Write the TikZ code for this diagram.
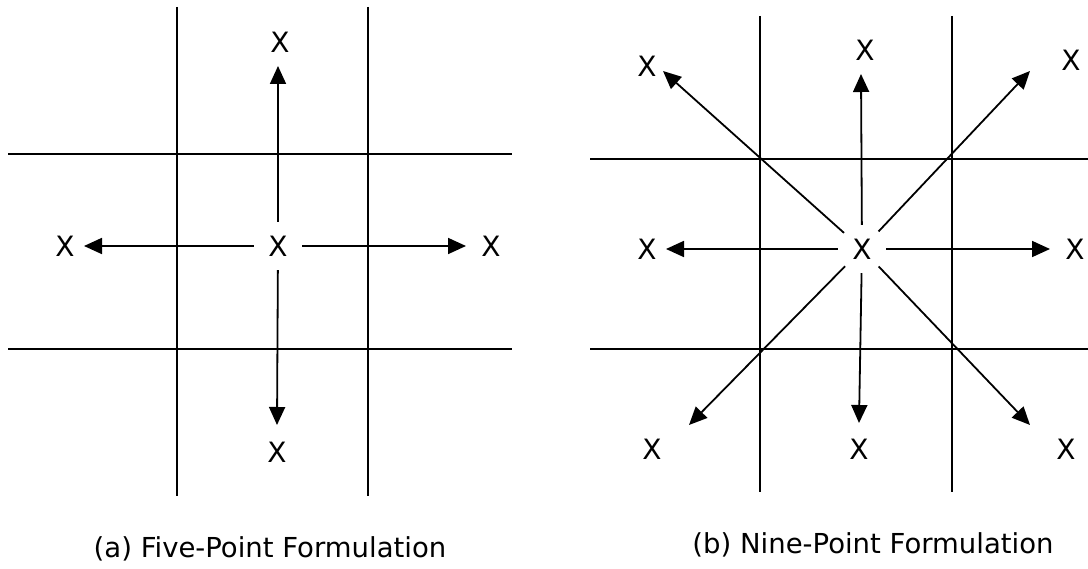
\documentclass[tikz,border=0pt]{standalone}
\usepackage{fontspec}
\setmainfont{DejaVu Sans}
\usepackage{tikz}
\usetikzlibrary{arrows.meta}

\begin{document}
\begin{tikzpicture}[
  x=1pt, y=-1pt,
  gridline/.style={line width=2pt},
  arr/.style={-{Triangle[length=18pt,width=16pt]}, line width=1.8pt},
  xpt/.style={font=\fontsize{28}{32}\selectfont, inner sep=0pt},
  hub/.style={xpt, circle, minimum size=48pt},
  caption/.style={font=\fontsize{27.5}{32}\selectfont, inner sep=0pt}
]
\useasboundingbox (0,0) rectangle (1088,569);

% (a) grid lines
\draw[gridline] (177,7) -- (177,496);
\draw[gridline] (368,7) -- (368,496);
\draw[gridline] (8,154) -- (512,154);
\draw[gridline] (8,349) -- (512,349);

% (a) five points
\node[hub] (ctrA) at (278,246) {X};
\node[xpt] (northA) at (280,42) {X};
\node[xpt] (southA) at (277,452) {X};
\node[xpt] (westA) at (65,246) {X};
\node[xpt] (eastA) at (491,246) {X};

\coordinate (northAtip) at (278,66);
\coordinate (southAtip) at (277,425);
\coordinate (westAtip) at (84,246);
\coordinate (eastAtip) at (466,246);

\draw[arr] (ctrA) -- (northAtip);
\draw[arr] (ctrA) -- (southAtip);
\draw[arr] (ctrA) -- (westAtip);
\draw[arr] (ctrA) -- (eastAtip);

% (b) grid lines
\draw[gridline] (760,16) -- (760,492);
\draw[gridline] (952,16) -- (952,492);
\draw[gridline] (590,159) -- (1088,159);
\draw[gridline] (590,349) -- (1088,349);

% (b) nine points
\node[hub] (ctrB) at (862,249) {X};
\node[xpt] (northB) at (865,50) {X};
\node[xpt] (southB) at (859,449) {X};
\node[xpt] (westB) at (647,249) {X};
\node[xpt] (eastB) at (1075,249) {X};
\node[xpt] (nwB) at (647,66) {X};
\node[xpt] (neB) at (1071,60) {X};
\node[xpt] (swB) at (652,449) {X};
\node[xpt] (seB) at (1066,449) {X};

\coordinate (northBtip) at (861,74);
\coordinate (southBtip) at (859,423);
\coordinate (westBtip) at (666,249);
\coordinate (eastBtip) at (1050,249);
\coordinate (nwBtip) at (663,71);
\coordinate (neBtip) at (1030,71);
\coordinate (swBtip) at (689,425);
\coordinate (seBtip) at (1030,425);

\draw[arr] (ctrB) -- (northBtip);
\draw[arr] (ctrB) -- (southBtip);
\draw[arr] (ctrB) -- (westBtip);
\draw[arr] (ctrB) -- (eastBtip);
\draw[arr] (ctrB) -- (nwBtip);
\draw[arr] (ctrB) -- (neBtip);
\draw[arr] (ctrB) -- (swBtip);
\draw[arr] (ctrB) -- (seBtip);

% captions
\node[caption] (capA) at (270,549) {(a) Five-Point Formulation};
\node[caption] (capB) at (873,545) {(b) Nine-Point Formulation};

\end{tikzpicture}
\end{document}
